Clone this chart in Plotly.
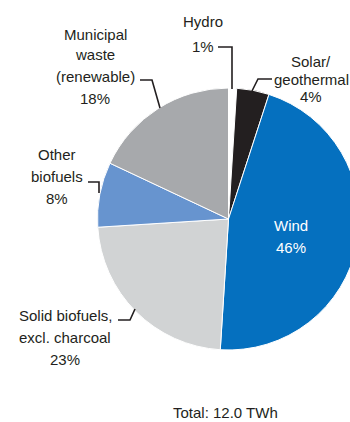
import plotly.graph_objects as go

# ---- data ----
labels = ["Hydro", "Solar/geothermal", "Wind", "Solid biofuels, excl. charcoal",
          "Other biofuels", "Municipal waste (renewable)"]
values = [1, 4, 46, 23, 8, 18]
colors = ["#ffffff", "#231f20", "#0570bf", "#d1d3d4", "#6794cf", "#a7a9ac"]
label_lines = [
    ["Hydro", "1%"],
    ["Solar/", "geothermal", "4%"],
    ["Wind", "46%"],
    ["Solid biofuels,", "excl. charcoal", "23%"],
    ["Other", "biofuels", "8%"],
    ["Municipal", "waste", "(renewable)", "18%"],
]
total_text = "Total: 12.0 TWh"

# ---- layout geometry (pixels) ----
W, H = 362, 422
TXT = "#231f20"
FONT = "Liberation Sans, Arial, sans-serif"
FS = 15

def px(x):
    return x / W

def py(y):
    return 1 - y / H

label_pos = [
    (203, [22, 46]),
    (311, [62, 79, 96]),
    (291, [225, 248]),
    (65, [315, 337, 359]),
    (57, [155, 176, 199]),
    (95, [34, 55, 77, 98]),
]
label_colors = [TXT, TXT, "#ffffff", TXT, TXT, TXT]

leaders = [
    [(218, 47), (232, 47), (232, 89)],
    [(272, 79), (258, 79), (252, 91)],
    None,
    [(118, 320), (130, 320), (135, 309)],
    [(88, 182), (99, 182), (99, 193)],
    [(140, 80), (152, 80), (160, 108)],
]

fig = go.Figure()
fig.add_trace(go.Pie(
    labels=labels,
    values=values,
    sort=False,
    direction="clockwise",
    rotation=0,
    marker=dict(colors=colors, line=dict(color="#ffffff", width=1)),
    textinfo="none",
    hoverinfo="label+percent",
    showlegend=False,
    domain=dict(x=[px(97.5), px(359.5)], y=[py(350), py(88)]),
))

annotations = []
for lines, (cx, ys), col in zip(label_lines, label_pos, label_colors):
    for t, yy in zip(lines, ys):
        annotations.append(dict(
            text=t, x=px(cx), y=py(yy), xref="paper", yref="paper",
            xanchor="center", yanchor="middle", showarrow=False,
            font=dict(size=FS, color=col, family=FONT),
        ))
annotations.append(dict(
    text=total_text, x=px(226), y=py(412), xref="paper", yref="paper",
    xanchor="center", yanchor="middle", showarrow=False,
    font=dict(size=FS, color=TXT, family=FONT),
))

shapes = []
for pts in leaders:
    if not pts:
        continue
    path = "M " + " L ".join(f"{px(x):.5f},{py(y):.5f}" for x, y in pts)
    shapes.append(dict(type="path", path=path, xref="paper", yref="paper",
                       line=dict(color=TXT, width=1.6)))

fig.update_layout(
    width=W, height=H,
    margin=dict(l=0, r=0, t=0, b=0),
    paper_bgcolor="#ffffff",
    plot_bgcolor="#ffffff",
    annotations=annotations,
    shapes=shapes,
    font=dict(family=FONT, color=TXT),
)

fig.write_html(
    "out.html",
    config={"displayModeBar": False},
    post_script="document.documentElement.style.overflow='hidden';"
                "document.body.style.overflow='hidden';document.body.style.margin='0';",
)
